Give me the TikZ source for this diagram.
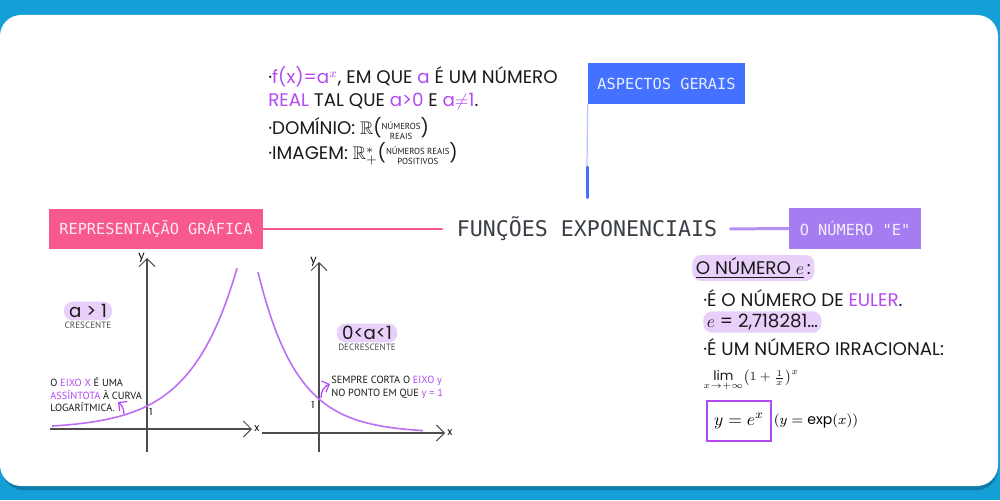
\documentclass[tikz,border=0pt]{standalone}
\usepackage{amsmath,amssymb}
\usepackage{fontspec}
\setmainfont{Poppins}
\newfontfamily\notefont{PT Sans}
\setmonofont{DejaVu Sans Mono}
\usepackage{tikz}
\usetikzlibrary{arrows.meta,positioning}

\definecolor{sky}{HTML}{14A0D6}
\definecolor{skyshade}{HTML}{0B6F99}
\definecolor{boxblue}{HTML}{4471FF}
\definecolor{boxpink}{HTML}{F7588D}
\definecolor{boxviolet}{HTML}{A67CF1}
\definecolor{ink}{HTML}{1A1A1A}
\definecolor{accent}{HTML}{B34AF3}
\definecolor{curvecol}{HTML}{BA6EF6}
\definecolor{blob}{HTML}{E8D0FB}
\definecolor{titlegray}{HTML}{3A3F47}

\newcommand{\acc}[1]{\textcolor{accent}{#1}}
\newcommand{\smallstack}[1]{{\notefont\fontsize{5}{5.8}\selectfont\begin{tabular}{@{}c@{}}#1\end{tabular}}}

\begin{document}
\begin{tikzpicture}[
  x={(0.02cm,0cm)},y={(0cm,-0.02cm)},
  >=Latex,
  topic/.style={fill=#1,text=white!88!#1,font=\ttfamily\fontsize{8.7}{10}\selectfont,
    minimum height=0.82cm,inner xsep=0pt},
  link/.style={line width=1.7pt,draw=#1,line cap=round},
  hand/.style={anchor=west,text=ink,font=\fontsize{10.4}{12}\selectfont,inner sep=0pt},
  tiny/.style={anchor=center,text=black!70,font=\notefont\fontsize{5.2}{6}\selectfont,inner sep=0pt},
  note/.style={anchor=north west,align=left,text=ink,font=\notefont\fontsize{5.9}{7.2}\selectfont,inner sep=0pt},
  blobnote/.style={fill=blob,rounded corners=5pt,inner xsep=3pt,inner ysep=1.5pt,text=ink,
    font=\fontsize{10.4}{12}\selectfont},
  axis/.style={-{Straight Barb[length=1.6mm]},draw=black!70,line width=0.6pt},
  expcurve/.style={draw=curvecol,line width=0.9pt},
  pointer/.style={-{Straight Barb[length=1.2mm]},draw=accent,line width=0.7pt}
]
  % card
  \useasboundingbox (0,0) rectangle (1000,500);
  \fill[sky] (0,0) rectangle (1000,500);
  \fill[skyshade,opacity=0.7,rounded corners=12pt] (2,20) rectangle (998,490);
  \fill[white,rounded corners=12pt] (0,15) rectangle (998,486);

  % main topics
  \node[font=\ttfamily\fontsize{12.3}{14}\selectfont,text=titlegray] (tema) at (587,229) {FUNÇÕES EXPONENCIAIS};
  \node[topic=boxblue,minimum width=3.14cm] (gerais) at (666.5,83.5) {ASPECTOS GERAIS};
  \node[topic=boxpink,minimum width=4.28cm] (grafica) at (156,229) {REPRESENTAÇÃO GRÁFICA};
  \node[topic=boxviolet,minimum width=2.64cm] (euler) at (855,228.5) {O NÚMERO "E"};

  \coordinate (knee) at (587,167);
  \draw[boxblue!40,line width=0.7pt] (gerais.south west) -- (knee);
  \draw[link=boxblue,shorten >=7.5pt] (knee) -- (tema.north);
  \draw[link=boxpink,shorten >=5pt] (grafica.east) -- (tema.west);
  \draw[link=boxviolet!85,shorten <=4pt] (tema.east) -- (euler.west);

  % aspectos gerais
  \node[hand] (def1) at (268,77) {·\acc{f(x)=a$^{x}$}, EM QUE \acc{a} É UM NÚMERO};
  \node[hand] (def2) at (268,102) {\acc{REAL} TAL QUE \acc{a>0} E \acc{a$\neq$1}.};
  \node[hand] (dom) at (268,130) {·DOMÍNIO: $\mathbb{R}$(\smallstack{NÚMEROS\\REAIS})};
  \node[hand] (img) at (268,155) {·IMAGEM: $\mathbb{R}^{*}_{+}$(\smallstack{NÚMEROS REAIS\\POSITIVOS})};

  % grafico crescente
  \draw[axis] (50,429) -- (252,429) node[right,inner sep=1pt,font=\fontsize{6}{7}\selectfont] (x1) {x};
  \draw[axis] (147,452) -- (147,258) node[left,inner sep=1pt,font=\fontsize{6.5}{7}\selectfont] (y1) {y};
  \draw[expcurve] plot[domain=52:237,samples=70] (\x,{429-23*exp(0.0216*(\x-147))});
  \node[font=\fontsize{5.5}{6}\selectfont,inner sep=0pt] (um1) at (151,412) {1};
  \node[blobnote] (cond1) at (88,311) {a > 1};
  \node[tiny] (cres) at (88,325) {CRESCENTE};
  \node[note] (nota1) at (50,377) {O \acc{EIXO X} É UMA\\\acc{ASSÍNTOTA} À CURVA\\LOGARÍTMICA.};
  \coordinate (p1) at (124,414);
  \coordinate (t1) at (118,402);
  \draw[pointer] (p1) to[bend right=25] (t1);

  % grafico decrescente
  \draw[axis] (262,433) -- (445,433) node[right,inner sep=1pt,font=\fontsize{6}{7}\selectfont] (x2) {x};
  \draw[axis] (319,452) -- (319,262) node[left,inner sep=1pt,font=\fontsize{6.5}{7}\selectfont] (y2) {y};
  \draw[expcurve] plot[domain=258:423,samples=70] (\x,{433-34*exp(-0.0255*(\x-319))});
  \node[font=\fontsize{5.5}{6}\selectfont,inner sep=0pt] (um2) at (313,405) {1};
  \node[blobnote] (cond2) at (367,333) {0<a<1};
  \node[tiny] (decres) at (367,347) {DECRESCENTE};
  \node[note] (nota2) at (331,376) {SEMPRE CORTA O \acc{EIXO y}\\NO PONTO EM QUE \acc{y = 1}};
  \coordinate (p2) at (321,398);
  \coordinate (t2) at (330,384);
  \draw[pointer] (p2) to[bend left=35] (t2);

  % numero de euler
  \node[blobnote,anchor=west,inner xsep=2pt] (etit) at (692,268) {\underline{O NÚMERO $e$}\,:};
  \node[hand] (e1) at (703,298) {·É O NÚMERO DE \acc{EULER}.};
  \node[blobnote,anchor=west,inner xsep=2pt] (e2) at (703,322) {$e$ = 2,718281\ldots};
  \node[hand] (e3) at (703,347) {·É UM NÚMERO IRRACIONAL:};
  \node[hand,font=\fontsize{7.5}{9}\selectfont] (e4) at (703,381) {$\lim\limits_{x\to+\infty}\bigl(1+\frac{1}{x}\bigr)^{x}$};
  \node[draw=accent,line width=0.8pt,minimum width=1.28cm,minimum height=0.8cm,
    font=\fontsize{10}{12}\selectfont] (ebox) at (739,421) {$y=e^{x}$};
  \node[anchor=west,inner sep=1pt,font=\fontsize{8}{9}\selectfont] (eexp) at (ebox.east) {$(y=\exp(x))$};
\end{tikzpicture}
\end{document}
